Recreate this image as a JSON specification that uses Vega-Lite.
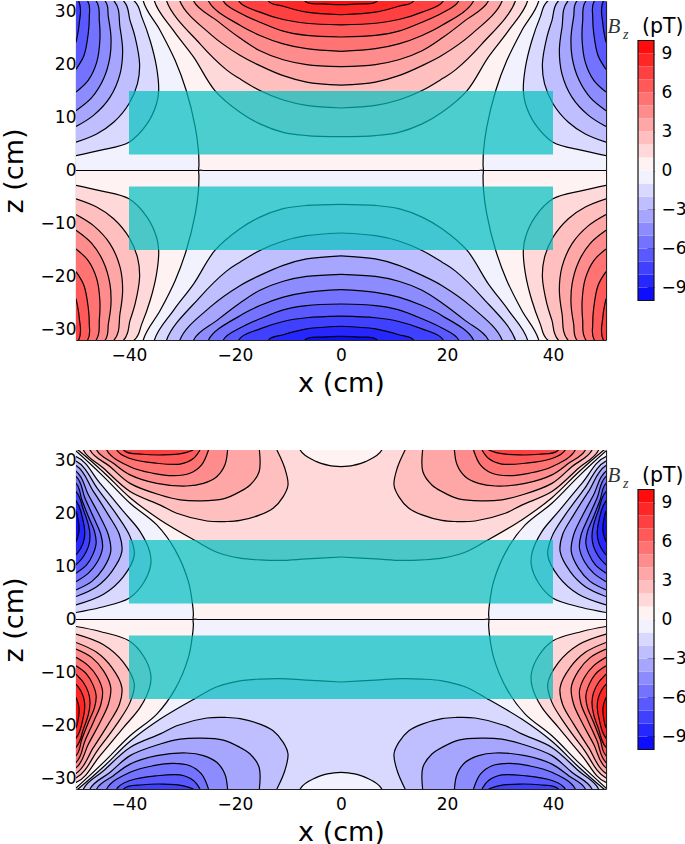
{"$schema":"https://vega.github.io/schema/vega-lite/v6.json","padding":{"left":0,"top":0,"right":0,"bottom":0},"background":"white","spacing":53,
"config":{"view":{"stroke":null},"axis":{"labelFont":"DejaVu Sans","titleFont":"DejaVu Sans","labelFontSize":17,"titleFontSize":27,"titleFontWeight":"normal","labelColor":"#000","titleColor":"#000","grid":false,"tickColor":"#111","domainColor":"#222","tickWidth":1,"domainWidth":1.2,"tickSize":-7,"labelOverlap":false,"labelFlush":false,"zindex":1}},
"datasets":{
"top":[
{"p":0,"v":-0.5,"x":0,"z":0},{"p":0,"v":-0.5,"x":-20,"z":0},{"p":0,"v":-0.5,"x":-40,"z":0},{"p":0,"v":-0.5,"x":-57,"z":0},{"p":0,"v":-0.5,"x":-60,"z":0},{"p":0,"v":-0.5,"x":-60,"z":40},{"p":0,"v":-0.5,"x":0,"z":40},
{"p":1,"v":-1.5,"x":-50,"z":2.8},{"p":1,"v":-1.5,"x":-45.5,"z":3.8},{"p":1,"v":-1.5,"x":-40,"z":5.35},{"p":1,"v":-1.5,"x":-36.6,"z":8.8},{"p":1,"v":-1.5,"x":-34.8,"z":12.6},{"p":1,"v":-1.5,"x":-34.4,"z":15.1},{"p":1,"v":-1.5,"x":-34.8,"z":19.5},{"p":1,"v":-1.5,"x":-36,"z":24.5},{"p":1,"v":-1.5,"x":-37.6,"z":29},{"p":1,"v":-1.5,"x":-39,"z":32},{"p":1,"v":-1.5,"x":-60,"z":40},
{"p":2,"v":-2.5,"x":-50,"z":5.35},{"p":2,"v":-2.5,"x":-46.1,"z":6.9},{"p":2,"v":-2.5,"x":-42.9,"z":9.1},{"p":2,"v":-2.5,"x":-40,"z":12.6},{"p":2,"v":-2.5,"x":-38.4,"z":16.4},{"p":2,"v":-2.5,"x":-38,"z":20.1},{"p":2,"v":-2.5,"x":-38.85,"z":25.2},{"p":2,"v":-2.5,"x":-39.8,"z":28.3},{"p":2,"v":-2.5,"x":-41,"z":32},{"p":2,"v":-2.5,"x":-60,"z":40},
{"p":3,"v":-3.5,"x":-50,"z":8.3},{"p":3,"v":-3.5,"x":-46.7,"z":10.4},{"p":3,"v":-3.5,"x":-43.6,"z":13.8},{"p":3,"v":-3.5,"x":-41.7,"z":18.2},{"p":3,"v":-3.5,"x":-41.2,"z":22.6},{"p":3,"v":-3.5,"x":-41.7,"z":27},{"p":3,"v":-3.5,"x":-42.8,"z":32},{"p":3,"v":-3.5,"x":-60,"z":40},
{"p":4,"v":-4.5,"x":-50,"z":11.3},{"p":4,"v":-4.5,"x":-47,"z":13.8},{"p":4,"v":-4.5,"x":-44.8,"z":17.3},{"p":4,"v":-4.5,"x":-43.6,"z":21.4},{"p":4,"v":-4.5,"x":-43.4,"z":25.2},{"p":4,"v":-4.5,"x":-43.9,"z":29},{"p":4,"v":-4.5,"x":-44.5,"z":32},{"p":4,"v":-4.5,"x":-60,"z":40},
{"p":5,"v":-5.5,"x":-50,"z":14.8},{"p":5,"v":-5.5,"x":-47.7,"z":17},{"p":5,"v":-5.5,"x":-46.1,"z":20.4},{"p":5,"v":-5.5,"x":-45.5,"z":24.5},{"p":5,"v":-5.5,"x":-45.6,"z":28.3},{"p":5,"v":-5.5,"x":-46.2,"z":32},{"p":5,"v":-5.5,"x":-60,"z":40},
{"p":6,"v":-6.5,"x":-50,"z":19.1},{"p":6,"v":-6.5,"x":-48.5,"z":21.7},{"p":6,"v":-6.5,"x":-47.7,"z":25.8},{"p":6,"v":-6.5,"x":-47.5,"z":28.9},{"p":6,"v":-6.5,"x":-47.8,"z":32},{"p":6,"v":-6.5,"x":-60,"z":40},
{"p":7,"v":-7.5,"x":-50,"z":24.2},{"p":7,"v":-7.5,"x":-49.4,"z":27.7},{"p":7,"v":-7.5,"x":-49.5,"z":32},{"p":7,"v":-7.5,"x":-60,"z":40},
{"p":8,"v":0.5,"x":0,"z":0},{"p":8,"v":0.5,"x":-12,"z":0},{"p":8,"v":0.5,"x":-22,"z":0},{"p":8,"v":0.5,"x":-25.8,"z":0},{"p":8,"v":0.5,"x":-26.8,"z":0},{"p":8,"v":0.5,"x":-26.8,"z":1},{"p":8,"v":0.5,"x":-26.9,"z":3.8},{"p":8,"v":0.5,"x":-27.5,"z":8.2},{"p":8,"v":0.5,"x":-29.2,"z":15.1},{"p":8,"v":0.5,"x":-31.3,"z":20.8},{"p":8,"v":0.5,"x":-34.1,"z":26.4},{"p":8,"v":0.5,"x":-37.3,"z":32},{"p":8,"v":0.5,"x":-37.3,"z":40},{"p":8,"v":0.5,"x":0,"z":40},
{"p":9,"v":1.5,"x":0,"z":6.4},{"p":9,"v":1.5,"x":-6.5,"z":6.6},{"p":9,"v":1.5,"x":-10.9,"z":7.2},{"p":9,"v":1.5,"x":-15.3,"z":8.8},{"p":9,"v":1.5,"x":-19.06,"z":11},{"p":9,"v":1.5,"x":-23.8,"z":15.1},{"p":9,"v":1.5,"x":-27.8,"z":21.4},{"p":9,"v":1.5,"x":-31.6,"z":26.4},{"p":9,"v":1.5,"x":-35.2,"z":32},{"p":9,"v":1.5,"x":-35.2,"z":40},{"p":9,"v":1.5,"x":0,"z":40},
{"p":10,"v":2.5,"x":0,"z":11.8},{"p":10,"v":2.5,"x":-6.5,"z":12.3},{"p":10,"v":2.5,"x":-10.9,"z":13.3},{"p":10,"v":2.5,"x":-15.3,"z":15.1},{"p":10,"v":2.5,"x":-19.06,"z":17.3},{"p":10,"v":2.5,"x":-21.6,"z":19},{"p":10,"v":2.5,"x":-26.6,"z":23.9},{"p":10,"v":2.5,"x":-32.9,"z":32},{"p":10,"v":2.5,"x":-32.9,"z":40},{"p":10,"v":2.5,"x":0,"z":40},
{"p":11,"v":3.5,"x":0,"z":16.1},{"p":11,"v":3.5,"x":-6.5,"z":16.7},{"p":11,"v":3.5,"x":-10.9,"z":17.9},{"p":11,"v":3.5,"x":-15.3,"z":19.8},{"p":11,"v":3.5,"x":-19,"z":21.7},{"p":11,"v":3.5,"x":-24.7,"z":25.8},{"p":11,"v":3.5,"x":-30.4,"z":32},{"p":11,"v":3.5,"x":-30.4,"z":40},{"p":11,"v":3.5,"x":0,"z":40},
{"p":12,"v":4.5,"x":0,"z":19.6},{"p":12,"v":4.5,"x":-6.5,"z":20},{"p":12,"v":4.5,"x":-10.9,"z":20.9},{"p":12,"v":4.5,"x":-15.3,"z":22.6},{"p":12,"v":4.5,"x":-19.06,"z":25},{"p":12,"v":4.5,"x":-23.4,"z":28.3},{"p":12,"v":4.5,"x":-27.8,"z":32},{"p":12,"v":4.5,"x":-27.8,"z":40},{"p":12,"v":4.5,"x":0,"z":40},
{"p":13,"v":5.5,"x":0,"z":22.5},{"p":13,"v":5.5,"x":-6.5,"z":23},{"p":13,"v":5.5,"x":-10.9,"z":23.9},{"p":13,"v":5.5,"x":-15.3,"z":25.5},{"p":13,"v":5.5,"x":-19.06,"z":27.4},{"p":13,"v":5.5,"x":-25,"z":32},{"p":13,"v":5.5,"x":-25,"z":40},{"p":13,"v":5.5,"x":0,"z":40},
{"p":14,"v":6.5,"x":0,"z":25.2},{"p":14,"v":6.5,"x":-6.5,"z":25.5},{"p":14,"v":6.5,"x":-10.9,"z":26.3},{"p":14,"v":6.5,"x":-15.3,"z":28},{"p":14,"v":6.5,"x":-19.06,"z":29.75},{"p":14,"v":6.5,"x":-22.2,"z":32},{"p":14,"v":6.5,"x":-22.2,"z":40},{"p":14,"v":6.5,"x":0,"z":40},
{"p":15,"v":7.5,"x":0,"z":27.5},{"p":15,"v":7.5,"x":-6.5,"z":27.8},{"p":15,"v":7.5,"x":-10.9,"z":28.5},{"p":15,"v":7.5,"x":-15.3,"z":29.9},{"p":15,"v":7.5,"x":-19.3,"z":32},{"p":15,"v":7.5,"x":-19.3,"z":40},{"p":15,"v":7.5,"x":0,"z":40},
{"p":16,"v":8.5,"x":0,"z":29.4},{"p":16,"v":8.5,"x":-6.5,"z":29.9},{"p":16,"v":8.5,"x":-10.9,"z":31},{"p":16,"v":8.5,"x":-13.7,"z":32},{"p":16,"v":8.5,"x":-13.7,"z":40},{"p":16,"v":8.5,"x":0,"z":40},
{"p":17,"v":9.5,"x":0,"z":31.3},{"p":17,"v":9.5,"x":-3.3,"z":31.45},{"p":17,"v":9.5,"x":-6.8,"z":32},{"p":17,"v":9.5,"x":-6.8,"z":40},{"p":17,"v":9.5,"x":0,"z":40}
],
"bottom":[
{"p":0,"v":-0.5,"x":0,"z":0},{"p":0,"v":-0.5,"x":-20,"z":0},{"p":0,"v":-0.5,"x":-40,"z":0},{"p":0,"v":-0.5,"x":-57,"z":0},{"p":0,"v":-0.5,"x":-60,"z":0},{"p":0,"v":-0.5,"x":-60,"z":40},{"p":0,"v":-0.5,"x":0,"z":40},
{"p":1,"v":-1.5,"x":-50,"z":1.32},{"p":1,"v":-1.5,"x":-45.45,"z":2.26},{"p":1,"v":-1.5,"x":-40,"z":4.02},{"p":1,"v":-1.5,"x":-37.3,"z":6.85},{"p":1,"v":-1.5,"x":-35.9,"z":10.3},{"p":1,"v":-1.5,"x":-36.1,"z":12.8},{"p":1,"v":-1.5,"x":-37.9,"z":16.6},{"p":1,"v":-1.5,"x":-41.05,"z":20.4},{"p":1,"v":-1.5,"x":-45.45,"z":25.7},{"p":1,"v":-1.5,"x":-50,"z":30.75},{"p":1,"v":-1.5,"x":-60,"z":30},
{"p":2,"v":-2.5,"x":-50,"z":2.76},{"p":2,"v":-2.5,"x":-44.8,"z":4.77},{"p":2,"v":-2.5,"x":-41.05,"z":8.1},{"p":2,"v":-2.5,"x":-39,"z":12.2},{"p":2,"v":-2.5,"x":-39.8,"z":15.65},{"p":2,"v":-2.5,"x":-42.3,"z":19.75},{"p":2,"v":-2.5,"x":-45.8,"z":24.5},{"p":2,"v":-2.5,"x":-50,"z":29.9},{"p":2,"v":-2.5,"x":-60,"z":30},
{"p":3,"v":-3.5,"x":-50,"z":4.33},{"p":3,"v":-3.5,"x":-46.1,"z":6.2},{"p":3,"v":-3.5,"x":-43.25,"z":9.05},{"p":3,"v":-3.5,"x":-41.35,"z":12.8},{"p":3,"v":-3.5,"x":-41.8,"z":16},{"p":3,"v":-3.5,"x":-43.9,"z":19.75},{"p":3,"v":-3.5,"x":-46.7,"z":24.15},{"p":3,"v":-3.5,"x":-50,"z":29.05},{"p":3,"v":-3.5,"x":-60,"z":30},
{"p":4,"v":-4.5,"x":-50,"z":5.6},{"p":4,"v":-4.5,"x":-47,"z":7.2},{"p":4,"v":-4.5,"x":-44.8,"z":9.7},{"p":4,"v":-4.5,"x":-43.45,"z":12.8},{"p":4,"v":-4.5,"x":-43.9,"z":16},{"p":4,"v":-4.5,"x":-45.45,"z":19.4},{"p":4,"v":-4.5,"x":-47.65,"z":23.5},{"p":4,"v":-4.5,"x":-50,"z":28},{"p":4,"v":-4.5,"x":-60,"z":30},
{"p":5,"v":-5.5,"x":-50,"z":7.15},{"p":5,"v":-5.5,"x":-47.65,"z":8.75},{"p":5,"v":-5.5,"x":-45.95,"z":10.9},{"p":5,"v":-5.5,"x":-45,"z":13.45},{"p":5,"v":-5.5,"x":-45.3,"z":16},{"p":5,"v":-5.5,"x":-46.6,"z":19.1},{"p":5,"v":-5.5,"x":-48.3,"z":22.9},{"p":5,"v":-5.5,"x":-50,"z":27},{"p":5,"v":-5.5,"x":-60,"z":30},
{"p":6,"v":-6.5,"x":-50,"z":8.75},{"p":6,"v":-6.5,"x":-48,"z":10.3},{"p":6,"v":-6.5,"x":-46.85,"z":12.2},{"p":6,"v":-6.5,"x":-46.2,"z":14.4},{"p":6,"v":-6.5,"x":-46.5,"z":16.6},{"p":6,"v":-6.5,"x":-47.65,"z":19.4},{"p":6,"v":-6.5,"x":-48.9,"z":22.6},{"p":6,"v":-6.5,"x":-50,"z":25.7},{"p":6,"v":-6.5,"x":-60,"z":30},
{"p":7,"v":-7.5,"x":-50,"z":10.3},{"p":7,"v":-7.5,"x":-48.6,"z":11.9},{"p":7,"v":-7.5,"x":-47.65,"z":13.8},{"p":7,"v":-7.5,"x":-47.35,"z":15.65},{"p":7,"v":-7.5,"x":-47.65,"z":17.85},{"p":7,"v":-7.5,"x":-48.6,"z":20.7},{"p":7,"v":-7.5,"x":-50,"z":24.15},{"p":7,"v":-7.5,"x":-60,"z":30},
{"p":8,"v":-8.5,"x":-50,"z":12.2},{"p":8,"v":-8.5,"x":-49.1,"z":13.45},{"p":8,"v":-8.5,"x":-48.5,"z":15},{"p":8,"v":-8.5,"x":-48.35,"z":16.6},{"p":8,"v":-8.5,"x":-48.7,"z":18.8},{"p":8,"v":-8.5,"x":-50,"z":22.4},{"p":8,"v":-8.5,"x":-60,"z":30},
{"p":9,"v":-9.5,"x":-50,"z":14.7},{"p":9,"v":-9.5,"x":-49.55,"z":16},{"p":9,"v":-9.5,"x":-49.4,"z":17.2},{"p":9,"v":-9.5,"x":-49.7,"z":19.4},{"p":9,"v":-9.5,"x":-50,"z":20.4},{"p":9,"v":-9.5,"x":-60,"z":30},
{"p":10,"v":0.5,"x":0,"z":0},{"p":10,"v":0.5,"x":-12,"z":0},{"p":10,"v":0.5,"x":-22,"z":0},{"p":10,"v":0.5,"x":-26.8,"z":0},{"p":10,"v":0.5,"x":-27.85,"z":0},{"p":10,"v":0.5,"x":-27.85,"z":1},{"p":10,"v":0.5,"x":-28,"z":2.76},{"p":10,"v":0.5,"x":-28.8,"z":7.2},{"p":10,"v":0.5,"x":-31.3,"z":13.15},{"p":10,"v":0.5,"x":-34.75,"z":17.85},{"p":10,"v":0.5,"x":-39.8,"z":21.95},{"p":10,"v":0.5,"x":-44.8,"z":26.98},{"p":10,"v":0.5,"x":-50,"z":31.8},{"p":10,"v":0.5,"x":-60,"z":40},{"p":10,"v":0.5,"x":0,"z":40},
{"p":11,"v":1.5,"x":0,"z":11.8},{"p":11,"v":1.5,"x":-6.5,"z":11.44},{"p":11,"v":1.5,"x":-11.5,"z":11.15},{"p":11,"v":1.5,"x":-15.3,"z":11.25},{"p":11,"v":1.5,"x":-19.05,"z":11.57},{"p":11,"v":1.5,"x":-23.4,"z":12.7},{"p":11,"v":1.5,"x":-27.5,"z":14.9},{"p":11,"v":1.5,"x":-34.1,"z":18.8},{"p":11,"v":1.5,"x":-39.8,"z":23},{"p":11,"v":1.5,"x":-44.8,"z":27.8},{"p":11,"v":1.5,"x":-49.5,"z":31.9},{"p":11,"v":1.5,"x":-60,"z":40},{"p":11,"v":1.5,"x":0,"z":40},
{"p":12,"v":2.5,"x":-12.1,"z":32},{"p":12,"v":2.5,"x":-10.6,"z":28.55},{"p":12,"v":2.5,"x":-10,"z":25.4},{"p":12,"v":2.5,"x":-10.9,"z":23.2},{"p":12,"v":2.5,"x":-12.8,"z":21},{"p":12,"v":2.5,"x":-15.3,"z":19.75},{"p":12,"v":2.5,"x":-19.05,"z":18.7},{"p":12,"v":2.5,"x":-21.55,"z":18.5},{"p":12,"v":2.5,"x":-25.3,"z":18.6},{"p":12,"v":2.5,"x":-31,"z":20.05},{"p":12,"v":2.5,"x":-34.1,"z":21.6},{"p":12,"v":2.5,"x":-39.8,"z":24.15},{"p":12,"v":2.5,"x":-44.8,"z":28.55},{"p":12,"v":2.5,"x":-48.6,"z":32},{"p":12,"v":2.5,"x":-48.6,"z":40},{"p":12,"v":2.5,"x":-12.1,"z":40},
{"p":13,"v":3.5,"x":-15.4,"z":32},{"p":13,"v":3.5,"x":-15.45,"z":27.9},{"p":13,"v":3.5,"x":-17.15,"z":25.4},{"p":13,"v":3.5,"x":-19.05,"z":24.15},{"p":13,"v":3.5,"x":-22.2,"z":22.76},{"p":13,"v":3.5,"x":-26.6,"z":22.4},{"p":13,"v":3.5,"x":-30.35,"z":22.6},{"p":13,"v":3.5,"x":-34.1,"z":23.5},{"p":13,"v":3.5,"x":-39.8,"z":25.7},{"p":13,"v":3.5,"x":-43.55,"z":28.85},{"p":13,"v":3.5,"x":-47.35,"z":32},{"p":13,"v":3.5,"x":-47.35,"z":40},{"p":13,"v":3.5,"x":-15.4,"z":40},
{"p":14,"v":4.5,"x":-21.4,"z":32},{"p":14,"v":4.5,"x":-21.9,"z":29.2},{"p":14,"v":4.5,"x":-23.4,"z":27},{"p":14,"v":4.5,"x":-25.95,"z":25.7},{"p":14,"v":4.5,"x":-29.1,"z":25.2},{"p":14,"v":4.5,"x":-34.75,"z":25.7},{"p":14,"v":4.5,"x":-39.8,"z":27.3},{"p":14,"v":4.5,"x":-42.95,"z":29.5},{"p":14,"v":4.5,"x":-46.1,"z":32},{"p":14,"v":4.5,"x":-46.1,"z":40},{"p":14,"v":4.5,"x":-21.4,"z":40},
{"p":15,"v":5.5,"x":-25,"z":32},{"p":15,"v":5.5,"x":-26.3,"z":29.2},{"p":15,"v":5.5,"x":-28.5,"z":27.6},{"p":15,"v":5.5,"x":-31.6,"z":27.15},{"p":15,"v":5.5,"x":-35.4,"z":27.6},{"p":15,"v":5.5,"x":-39.8,"z":28.85},{"p":15,"v":5.5,"x":-44.2,"z":32},{"p":15,"v":5.5,"x":-44.2,"z":40},{"p":15,"v":5.5,"x":-25,"z":40},
{"p":16,"v":6.5,"x":-26.6,"z":32},{"p":16,"v":6.5,"x":-27.85,"z":30.4},{"p":16,"v":6.5,"x":-30.35,"z":29.35},{"p":16,"v":6.5,"x":-34.75,"z":29.5},{"p":16,"v":6.5,"x":-39.8,"z":30.4},{"p":16,"v":6.5,"x":-42.3,"z":32},{"p":16,"v":6.5,"x":-42.3,"z":40},{"p":16,"v":6.5,"x":-26.6,"z":40},
{"p":17,"v":7.5,"x":-27.85,"z":32},{"p":17,"v":7.5,"x":-29.7,"z":31.4},{"p":17,"v":7.5,"x":-33.5,"z":31.07},{"p":17,"v":7.5,"x":-37.3,"z":31.2},{"p":17,"v":7.5,"x":-41,"z":32},{"p":17,"v":7.5,"x":-41,"z":40},{"p":17,"v":7.5,"x":-27.85,"z":40},
{"p":18,"v":0.5,"x":0,"z":28.86},{"p":18,"v":0.5,"x":-2.3,"z":29.1},{"p":18,"v":0.5,"x":-4.6,"z":29.8},{"p":18,"v":0.5,"x":-7.7,"z":32},{"p":18,"v":0.5,"x":-7.7,"z":40},{"p":18,"v":0.5,"x":0,"z":40}
],
"coils":[{"x":-40,"x2":40,"z":3,"z2":15},{"x":-40,"x2":40,"z":-15,"z2":-3}],
"bands":[{"lo":-10,"hi":-9,"v":-9.5},{"lo":-9,"hi":-8,"v":-8.5},{"lo":-8,"hi":-7,"v":-7.5},{"lo":-7,"hi":-6,"v":-6.5},{"lo":-6,"hi":-5,"v":-5.5},{"lo":-5,"hi":-4,"v":-4.5},{"lo":-4,"hi":-3,"v":-3.5},{"lo":-3,"hi":-2,"v":-2.5},{"lo":-2,"hi":-1,"v":-1.5},{"lo":-1,"hi":0,"v":-0.5},{"lo":0,"hi":1,"v":0.5},{"lo":1,"hi":2,"v":1.5},{"lo":2,"hi":3,"v":2.5},{"lo":3,"hi":4,"v":3.5},{"lo":4,"hi":5,"v":4.5},{"lo":5,"hi":6,"v":5.5},{"lo":6,"hi":7,"v":6.5},{"lo":7,"hi":8,"v":7.5},{"lo":8,"hi":9,"v":8.5},{"lo":9,"hi":10,"v":9.5}]
},
"vconcat":[
{"bounds":"flush","spacing":32,"hconcat":[
{"width":530,"height":339,"resolve":{"scale":{"x":"independent","y":"independent","fill":"independent"},"axis":{"x":"independent","y":"independent"}},"layer":[
{"data":{"name":"top"},"mark":{"type":"line","clip":true,"stroke":"#000","strokeWidth":1.2,"interpolate":"catmull-rom"},"encoding":{"order":{"value":null},"detail":{"field":"p"},"x":{"field":"x","type":"quantitative","scale":{"domain":[-50,50],"nice":false,"zero":false},"axis":{"orient":"bottom","title":"x (cm)","values":[-40,-20,0,20,40],"labelPadding":14,"titlePadding":7}},"y":{"field":"z","type":"quantitative","scale":{"domain":[-32,32],"nice":false,"zero":false},"axis":{"orient":"left","title":"z (cm)","values":[-30,-20,-10,0,10,20,30],"labelPadding":7,"titlePadding":12}},"fill":{"field":"v","type":"ordinal","legend":null,"scale":{"domain":[-9.5,-8.5,-7.5,-6.5,-5.5,-4.5,-3.5,-2.5,-1.5,-0.5,0.5,1.5,2.5,3.5,4.5,5.5,6.5,7.5,8.5,9.5],"range":["#0d0dff","#2626ff","#4040ff","#5959ff","#7373ff","#8c8cff","#a6a6ff","#bfbfff","#d9d9ff","#f2f2ff","#fff2f2","#ffd9d9","#ffbfbf","#ffa6a6","#ff8c8c","#ff7373","#ff5959","#ff4040","#ff2626","#ff0d0d"]}}}},
{"data":{"name":"top"},"mark":{"type":"line","clip":true,"stroke":"#000","strokeWidth":1.2,"interpolate":"catmull-rom"},"encoding":{"order":{"value":null},"detail":{"field":"p"},"x":{"field":"x","type":"quantitative","scale":{"domain":[50,-50],"nice":false,"zero":false},"axis":{"orient":"top","title":null,"values":[-40,-20,0,20,40],"labels":false}},"y":{"field":"z","type":"quantitative","scale":{"domain":[-32,32],"nice":false,"zero":false},"axis":{"orient":"right","title":null,"values":[-30,-20,-10,0,10,20,30],"labels":false}},"fill":{"field":"v","type":"ordinal","legend":null,"scale":{"domain":[-9.5,-8.5,-7.5,-6.5,-5.5,-4.5,-3.5,-2.5,-1.5,-0.5,0.5,1.5,2.5,3.5,4.5,5.5,6.5,7.5,8.5,9.5],"range":["#0d0dff","#2626ff","#4040ff","#5959ff","#7373ff","#8c8cff","#a6a6ff","#bfbfff","#d9d9ff","#f2f2ff","#fff2f2","#ffd9d9","#ffbfbf","#ffa6a6","#ff8c8c","#ff7373","#ff5959","#ff4040","#ff2626","#ff0d0d"]}}}},
{"data":{"name":"top"},"mark":{"type":"line","clip":true,"stroke":"#000","strokeWidth":1.2,"interpolate":"catmull-rom"},"encoding":{"order":{"value":null},"detail":{"field":"p"},"x":{"field":"x","type":"quantitative","scale":{"domain":[-50,50],"nice":false,"zero":false},"axis":null},"y":{"field":"z","type":"quantitative","scale":{"domain":[32,-32],"nice":false,"zero":false},"axis":null},"fill":{"field":"v","type":"ordinal","legend":null,"scale":{"domain":[-9.5,-8.5,-7.5,-6.5,-5.5,-4.5,-3.5,-2.5,-1.5,-0.5,0.5,1.5,2.5,3.5,4.5,5.5,6.5,7.5,8.5,9.5],"range":["#ff0d0d","#ff2626","#ff4040","#ff5959","#ff7373","#ff8c8c","#ffa6a6","#ffbfbf","#ffd9d9","#fff2f2","#f2f2ff","#d9d9ff","#bfbfff","#a6a6ff","#8c8cff","#7373ff","#5959ff","#4040ff","#2626ff","#0d0dff"]}}}},
{"data":{"name":"top"},"mark":{"type":"line","clip":true,"stroke":"#000","strokeWidth":1.2,"interpolate":"catmull-rom"},"encoding":{"order":{"value":null},"detail":{"field":"p"},"x":{"field":"x","type":"quantitative","scale":{"domain":[50,-50],"nice":false,"zero":false},"axis":null},"y":{"field":"z","type":"quantitative","scale":{"domain":[32,-32],"nice":false,"zero":false},"axis":null},"fill":{"field":"v","type":"ordinal","legend":null,"scale":{"domain":[-9.5,-8.5,-7.5,-6.5,-5.5,-4.5,-3.5,-2.5,-1.5,-0.5,0.5,1.5,2.5,3.5,4.5,5.5,6.5,7.5,8.5,9.5],"range":["#ff0d0d","#ff2626","#ff4040","#ff5959","#ff7373","#ff8c8c","#ffa6a6","#ffbfbf","#ffd9d9","#fff2f2","#f2f2ff","#d9d9ff","#bfbfff","#a6a6ff","#8c8cff","#7373ff","#5959ff","#4040ff","#2626ff","#0d0dff"]}}}},
{"data":{"name":"coils"},"mark":{"type":"rect","fill":"#00bfbf","opacity":0.7},"encoding":{"x":{"field":"x","type":"quantitative","scale":{"domain":[-50,50],"nice":false,"zero":false},"axis":null},"x2":{"field":"x2"},"y":{"field":"z","type":"quantitative","scale":{"domain":[-32,32],"nice":false,"zero":false},"axis":null},"y2":{"field":"z2"}}}
]},
{"width":16,"height":339,"layer":[
{"data":{"name":"bands"},"mark":{"type":"rect"},"encoding":{"x":{"datum":0,"type":"quantitative","scale":{"domain":[0,1],"nice":false,"zero":false},"axis":null},"x2":{"datum":1},"y":{"field":"lo","type":"quantitative","scale":{"domain":[-13.04,13.04],"nice":false,"zero":false},"axis":{"orient":"right","title":null,"domain":false,"values":[-9,-6,-3,0,3,6,9],"labelPadding":14}},"y2":{"field":"hi"},"fill":{"field":"v","type":"ordinal","legend":null,"scale":{"domain":[-9.5,-8.5,-7.5,-6.5,-5.5,-4.5,-3.5,-2.5,-1.5,-0.5,0.5,1.5,2.5,3.5,4.5,5.5,6.5,7.5,8.5,9.5],"range":["#0d0dff","#2626ff","#4040ff","#5959ff","#7373ff","#8c8cff","#a6a6ff","#bfbfff","#d9d9ff","#f2f2ff","#fff2f2","#ffd9d9","#ffbfbf","#ffa6a6","#ff8c8c","#ff7373","#ff5959","#ff4040","#ff2626","#ff0d0d"]}}}},
{"data":{"values":[{"lo":-10,"hi":10}]},"mark":{"type":"rect","fill":null,"stroke":"#111","strokeWidth":1.2},"encoding":{"x":{"datum":0,"type":"quantitative"},"x2":{"datum":1},"y":{"field":"lo","type":"quantitative"},"y2":{"field":"hi"}}},
{"data":{"values":[{"t":"B","u":-1.9,"w":10.6}]},"mark":{"type":"text","font":"Liberation Serif","fontStyle":"italic","fontSize":21,"align":"left","baseline":"alphabetic","color":"#333"},"encoding":{"x":{"field":"u","type":"quantitative"},"y":{"field":"w","type":"quantitative"},"text":{"field":"t"}}},
{"data":{"values":[{"t":"z","u":-0.94,"w":10.15}]},"mark":{"type":"text","font":"Liberation Serif","fontStyle":"italic","fontSize":14,"align":"left","baseline":"alphabetic","color":"#333"},"encoding":{"x":{"field":"u","type":"quantitative"},"y":{"field":"w","type":"quantitative"},"text":{"field":"t"}}},
{"data":{"values":[{"t":"(pT)","u":0.25,"w":10.54}]},"mark":{"type":"text","font":"DejaVu Sans","fontSize":20.5,"align":"left","baseline":"alphabetic","color":"#000"},"encoding":{"x":{"field":"u","type":"quantitative"},"y":{"field":"w","type":"quantitative"},"text":{"field":"t"}}}
]}
]},
{"bounds":"flush","spacing":32,"hconcat":[
{"width":530,"height":339,"resolve":{"scale":{"x":"independent","y":"independent","fill":"independent"},"axis":{"x":"independent","y":"independent"}},"layer":[
{"data":{"name":"bottom"},"mark":{"type":"line","clip":true,"stroke":"#000","strokeWidth":1.2,"interpolate":"catmull-rom"},"encoding":{"order":{"value":null},"detail":{"field":"p"},"x":{"field":"x","type":"quantitative","scale":{"domain":[-50,50],"nice":false,"zero":false},"axis":{"orient":"bottom","title":"x (cm)","values":[-40,-20,0,20,40],"labelPadding":14,"titlePadding":7}},"y":{"field":"z","type":"quantitative","scale":{"domain":[-32,32],"nice":false,"zero":false},"axis":{"orient":"left","title":"z (cm)","values":[-30,-20,-10,0,10,20,30],"labelPadding":7,"titlePadding":12}},"fill":{"field":"v","type":"ordinal","legend":null,"scale":{"domain":[-9.5,-8.5,-7.5,-6.5,-5.5,-4.5,-3.5,-2.5,-1.5,-0.5,0.5,1.5,2.5,3.5,4.5,5.5,6.5,7.5,8.5,9.5],"range":["#0d0dff","#2626ff","#4040ff","#5959ff","#7373ff","#8c8cff","#a6a6ff","#bfbfff","#d9d9ff","#f2f2ff","#fff2f2","#ffd9d9","#ffbfbf","#ffa6a6","#ff8c8c","#ff7373","#ff5959","#ff4040","#ff2626","#ff0d0d"]}}}},
{"data":{"name":"bottom"},"mark":{"type":"line","clip":true,"stroke":"#000","strokeWidth":1.2,"interpolate":"catmull-rom"},"encoding":{"order":{"value":null},"detail":{"field":"p"},"x":{"field":"x","type":"quantitative","scale":{"domain":[50,-50],"nice":false,"zero":false},"axis":{"orient":"top","title":null,"values":[-40,-20,0,20,40],"labels":false}},"y":{"field":"z","type":"quantitative","scale":{"domain":[-32,32],"nice":false,"zero":false},"axis":{"orient":"right","title":null,"values":[-30,-20,-10,0,10,20,30],"labels":false}},"fill":{"field":"v","type":"ordinal","legend":null,"scale":{"domain":[-9.5,-8.5,-7.5,-6.5,-5.5,-4.5,-3.5,-2.5,-1.5,-0.5,0.5,1.5,2.5,3.5,4.5,5.5,6.5,7.5,8.5,9.5],"range":["#0d0dff","#2626ff","#4040ff","#5959ff","#7373ff","#8c8cff","#a6a6ff","#bfbfff","#d9d9ff","#f2f2ff","#fff2f2","#ffd9d9","#ffbfbf","#ffa6a6","#ff8c8c","#ff7373","#ff5959","#ff4040","#ff2626","#ff0d0d"]}}}},
{"data":{"name":"bottom"},"mark":{"type":"line","clip":true,"stroke":"#000","strokeWidth":1.2,"interpolate":"catmull-rom"},"encoding":{"order":{"value":null},"detail":{"field":"p"},"x":{"field":"x","type":"quantitative","scale":{"domain":[-50,50],"nice":false,"zero":false},"axis":null},"y":{"field":"z","type":"quantitative","scale":{"domain":[32,-32],"nice":false,"zero":false},"axis":null},"fill":{"field":"v","type":"ordinal","legend":null,"scale":{"domain":[-9.5,-8.5,-7.5,-6.5,-5.5,-4.5,-3.5,-2.5,-1.5,-0.5,0.5,1.5,2.5,3.5,4.5,5.5,6.5,7.5,8.5,9.5],"range":["#ff0d0d","#ff2626","#ff4040","#ff5959","#ff7373","#ff8c8c","#ffa6a6","#ffbfbf","#ffd9d9","#fff2f2","#f2f2ff","#d9d9ff","#bfbfff","#a6a6ff","#8c8cff","#7373ff","#5959ff","#4040ff","#2626ff","#0d0dff"]}}}},
{"data":{"name":"bottom"},"mark":{"type":"line","clip":true,"stroke":"#000","strokeWidth":1.2,"interpolate":"catmull-rom"},"encoding":{"order":{"value":null},"detail":{"field":"p"},"x":{"field":"x","type":"quantitative","scale":{"domain":[50,-50],"nice":false,"zero":false},"axis":null},"y":{"field":"z","type":"quantitative","scale":{"domain":[32,-32],"nice":false,"zero":false},"axis":null},"fill":{"field":"v","type":"ordinal","legend":null,"scale":{"domain":[-9.5,-8.5,-7.5,-6.5,-5.5,-4.5,-3.5,-2.5,-1.5,-0.5,0.5,1.5,2.5,3.5,4.5,5.5,6.5,7.5,8.5,9.5],"range":["#ff0d0d","#ff2626","#ff4040","#ff5959","#ff7373","#ff8c8c","#ffa6a6","#ffbfbf","#ffd9d9","#fff2f2","#f2f2ff","#d9d9ff","#bfbfff","#a6a6ff","#8c8cff","#7373ff","#5959ff","#4040ff","#2626ff","#0d0dff"]}}}},
{"data":{"name":"coils"},"mark":{"type":"rect","fill":"#00bfbf","opacity":0.7},"encoding":{"x":{"field":"x","type":"quantitative","scale":{"domain":[-50,50],"nice":false,"zero":false},"axis":null},"x2":{"field":"x2"},"y":{"field":"z","type":"quantitative","scale":{"domain":[-32,32],"nice":false,"zero":false},"axis":null},"y2":{"field":"z2"}}}
]},
{"width":16,"height":339,"layer":[
{"data":{"name":"bands"},"mark":{"type":"rect"},"encoding":{"x":{"datum":0,"type":"quantitative","scale":{"domain":[0,1],"nice":false,"zero":false},"axis":null},"x2":{"datum":1},"y":{"field":"lo","type":"quantitative","scale":{"domain":[-13.04,13.04],"nice":false,"zero":false},"axis":{"orient":"right","title":null,"domain":false,"values":[-9,-6,-3,0,3,6,9],"labelPadding":14}},"y2":{"field":"hi"},"fill":{"field":"v","type":"ordinal","legend":null,"scale":{"domain":[-9.5,-8.5,-7.5,-6.5,-5.5,-4.5,-3.5,-2.5,-1.5,-0.5,0.5,1.5,2.5,3.5,4.5,5.5,6.5,7.5,8.5,9.5],"range":["#0d0dff","#2626ff","#4040ff","#5959ff","#7373ff","#8c8cff","#a6a6ff","#bfbfff","#d9d9ff","#f2f2ff","#fff2f2","#ffd9d9","#ffbfbf","#ffa6a6","#ff8c8c","#ff7373","#ff5959","#ff4040","#ff2626","#ff0d0d"]}}}},
{"data":{"values":[{"lo":-10,"hi":10}]},"mark":{"type":"rect","fill":null,"stroke":"#111","strokeWidth":1.2},"encoding":{"x":{"datum":0,"type":"quantitative"},"x2":{"datum":1},"y":{"field":"lo","type":"quantitative"},"y2":{"field":"hi"}}},
{"data":{"values":[{"t":"B","u":-1.9,"w":10.6}]},"mark":{"type":"text","font":"Liberation Serif","fontStyle":"italic","fontSize":21,"align":"left","baseline":"alphabetic","color":"#333"},"encoding":{"x":{"field":"u","type":"quantitative"},"y":{"field":"w","type":"quantitative"},"text":{"field":"t"}}},
{"data":{"values":[{"t":"z","u":-0.94,"w":10.15}]},"mark":{"type":"text","font":"Liberation Serif","fontStyle":"italic","fontSize":14,"align":"left","baseline":"alphabetic","color":"#333"},"encoding":{"x":{"field":"u","type":"quantitative"},"y":{"field":"w","type":"quantitative"},"text":{"field":"t"}}},
{"data":{"values":[{"t":"(pT)","u":0.25,"w":10.54}]},"mark":{"type":"text","font":"DejaVu Sans","fontSize":20.5,"align":"left","baseline":"alphabetic","color":"#000"},"encoding":{"x":{"field":"u","type":"quantitative"},"y":{"field":"w","type":"quantitative"},"text":{"field":"t"}}}
]}
]}
]}
